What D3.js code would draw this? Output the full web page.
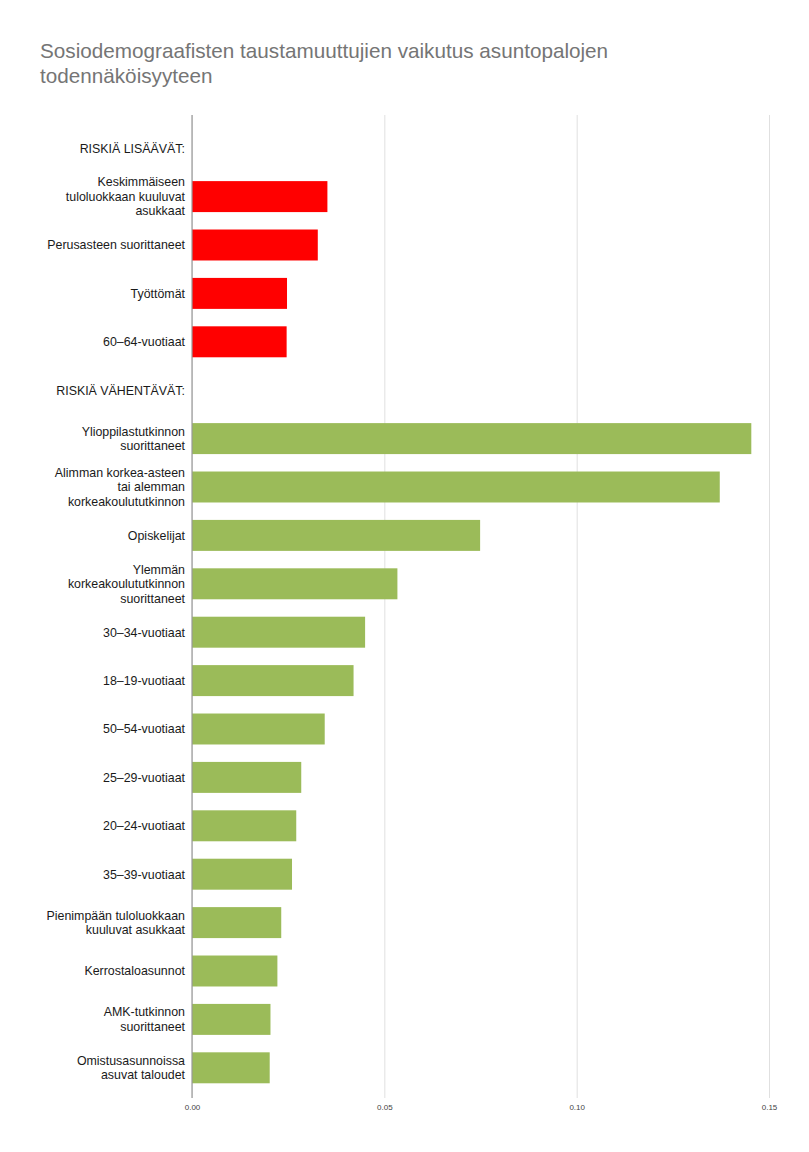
<!DOCTYPE html>
<html>
<head>
<meta charset="utf-8">
<script src="https://cdn.jsdelivr.net/npm/d3@7"></script>
<style>
  body { margin: 0; background: #fff; }
  svg { display: block; font-family: "Liberation Sans", Arial, sans-serif; }
</style>
</head>
<body>
<div id="chart"></div>
<script>
// Category labels (lines joined by "\n"), values and bar groups
const labels = [
    "RISKIÄ LISÄÄVÄT:",
    "Keskimmäiseen\ntuloluokkaan kuuluvat\nasukkaat",
    "Perusasteen suorittaneet",
    "Työttömät",
    "60–64-vuotiaat",
    "RISKIÄ VÄHENTÄVÄT:",
    "Ylioppilastutkinnon\nsuorittaneet",
    "Alimman korkea-asteen\ntai alemman\nkorkeakoulututkinnon",
    "Opiskelijat",
    "Ylemmän\nkorkeakoulututkinnon\nsuorittaneet",
    "30–34-vuotiaat",
    "18–19-vuotiaat",
    "50–54-vuotiaat",
    "25–29-vuotiaat",
    "20–24-vuotiaat",
    "35–39-vuotiaat",
    "Pienimpään tuloluokkaan\nkuuluvat asukkaat",
    "Kerrostaloasunnot",
    "AMK-tutkinnon\nsuorittaneet",
    "Omistusasunnoissa\nasuvat taloudet"
];
const values = [
    null, 0.0352, 0.0327, 0.0247, 0.0246,
    null, 0.1454, 0.1372, 0.0749, 0.0534, 0.0450, 0.0420, 0.0345,
    0.0284, 0.0271, 0.0260, 0.0232, 0.0222, 0.0204, 0.0202
];
const groups = [
    null, "up", "up", "up", "up",
    null, "down", "down", "down", "down", "down", "down", "down",
    "down", "down", "down", "down", "down", "down", "down"
];
const xTicks = [0, 0.05, 0.10, 0.15];
const title = ["Sosiodemograafisten taustamuuttujien vaikutus asuntopalojen", "todennäköisyyteen"];

const colors = { up: "#ff0000", down: "#9bbb59" };

const width = 809, height = 1152;
const plot = { left: 192, right: 769, top: 115, bottom: 1098 };

const svg = d3.select("#chart").append("svg")
    .attr("width", width)
    .attr("height", height);

// Title
svg.append("g").selectAll("text")
    .data(title)
    .join("text")
    .attr("x", 40)
    .attr("y", (d, i) => 58 + i * 25)
    .attr("fill", "#757575")
    .attr("font-size", 20.7)
    .text(d => d);

const rows = labels.map((label, i) => ({ label, value: values[i], group: groups[i], key: i }));

const x = d3.scaleLinear()
    .domain([0, 0.15])
    .range([plot.left, plot.right]);

const y = d3.scaleBand()
    .domain(rows.map(d => d.key))
    .range([124, 1092])
    .paddingInner(0.36)
    .paddingOuter(0.18);

// Gridlines + tick labels
svg.append("g")
    .attr("transform", `translate(0,${plot.bottom})`)
    .call(d3.axisBottom(x).tickValues(xTicks).tickFormat(d3.format(".2f")).tickSize(-(plot.bottom - plot.top)).tickPadding(6))
    .call(g => g.select(".domain").remove())
    .call(g => g.selectAll("line").attr("stroke", "#e0e0e0"))
    .call(g => g.selectAll("text").attr("fill", "#444").attr("font-size", 8).attr("font-family", "inherit"));

// Bars
svg.append("g").selectAll("rect")
    .data(rows.filter(d => d.value != null))
    .join("rect")
    .attr("x", x(0))
    .attr("y", d => y(d.key))
    .attr("width", d => x(d.value) - x(0))
    .attr("height", y.bandwidth())
    .attr("fill", d => colors[d.group]);

// Zero axis line
svg.append("line")
    .attr("x1", x(0)).attr("x2", x(0))
    .attr("y1", plot.top).attr("y2", plot.bottom)
    .attr("stroke", "#999")
    .attr("stroke-width", 1.2);

// Category labels (multi-line, right aligned)
const lineH = 14.5;
const lbl = svg.append("g").selectAll("text")
    .data(rows)
    .join("text")
    .attr("text-anchor", "end")
    .attr("font-size", 12.4)
    .attr("fill", "#1a1a1a")
    .attr("transform", d => `translate(185,${y(d.key) + y.bandwidth() / 2})`);

lbl.each(function(d) {
    const lines = d.label.split("\n");
    const off = -(lines.length - 1) / 2 * lineH;
    d3.select(this).selectAll("tspan")
        .data(lines)
        .join("tspan")
        .attr("x", 0)
        .attr("y", (l, i) => off + i * lineH)
        .attr("dy", "0.35em")
        .text(l => l);
});
</script>
</body>
</html>
